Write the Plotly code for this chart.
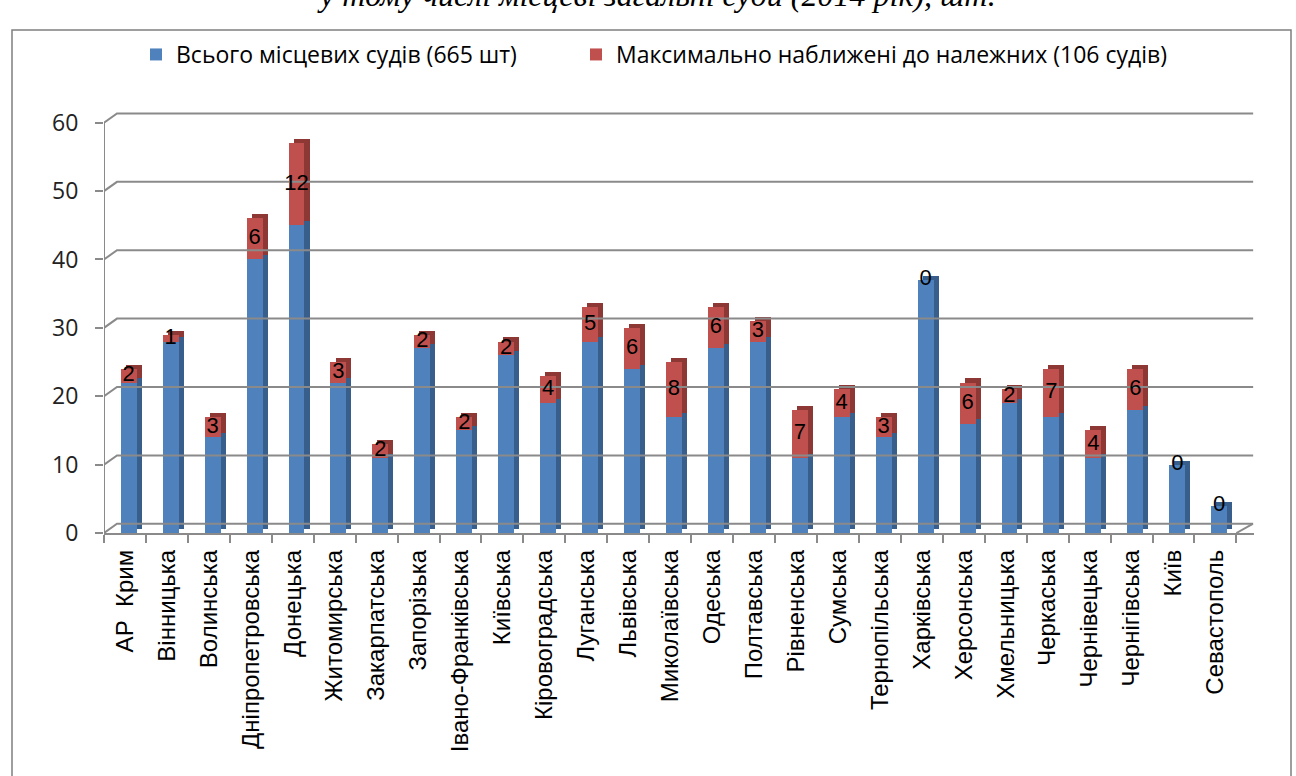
import plotly.graph_objects as go

regions = ["АР  Крим", "Вінницька", "Волинська", "Дніпропетровська", "Донецька",
           "Житомирська", "Закарпатська", "Запорізька", "Івано-Франківська", "Київська",
           "Кіровоградська", "Луганська", "Львівська", "Миколаївська", "Одеська",
           "Полтавська", "Рівненська", "Сумська", "Тернопільська", "Харківська",
           "Херсонська", "Хмельницька", "Черкаська", "Чернівецька", "Чернігівська",
           "Київ", "Севастополь"]
all_courts = [22, 28, 14, 40, 45, 22, 11, 27, 15, 26, 19, 28, 24, 17, 27,
              28, 11, 17, 14, 37, 16, 19, 17, 11, 18, 10, 4]
near_courts = [2, 1, 3, 6, 12, 3, 2, 2, 2, 2, 4, 5, 6, 8, 6,
               3, 7, 4, 3, 0, 6, 2, 7, 4, 6, 0, 0]
y_ticks = [0, 10, 20, 30, 40, 50, 60]
series_names = ["Всього місцевих судів (665 шт)", "Максимально наближені до належних (106 судів)"]
title_text = "у тому числі місцеві загальні суди (2014 рік), шт."

# layout geometry (pixels)
W, H = 1296, 776
L, R, T, B = 104, 42, 109, 243
PW, PH = W - L - R, H - T - B
XR = [-0.5, 26.92]
YR = [0, 62]

def xp(px):
    return (px - L) / PW

def yp(py):
    return (H - B - py) / PH

n = len(regions)
xs = list(range(n))
DX, DY = 0.31, 1.35   # 3D wall depth (data units)
BW, BOFF = 0.38, -0.10  # bar front face
SX, SY = 0.12, 0.6      # bar depth shift

BLUE, BLUE_D = "#4F81BD", "#385E8C"
RED, RED_D = "#C0504D", "#8E3835"
GRID = "#8A8A8A"

fig = go.Figure()

# back grid lines with left-wall diagonal
for v in y_ticks:
    fig.add_trace(go.Scatter(x=[-0.5, -0.5 + DX, XR[1] - 0.02], y=[v, v + DY, v + DY],
                             mode="lines", line=dict(color=GRID, width=2),
                             showlegend=False, hoverinfo="skip"))
# front y axis line and floor right edge
fig.add_trace(go.Scatter(x=[-0.5, -0.5], y=[0, 60], mode="lines",
                         line=dict(color=GRID, width=2), showlegend=False, hoverinfo="skip"))
fig.add_trace(go.Scatter(x=[26.5, 26.5 + DX + 0.08], y=[0, DY], mode="lines",
                         line=dict(color=GRID, width=2), showlegend=False, hoverinfo="skip"))

# depth (side/top) faces
fig.add_trace(go.Bar(x=xs, y=all_courts, base=[SY] * n, width=BW, offset=BOFF + SX,
                     marker=dict(color=BLUE_D, line=dict(width=0)), showlegend=False, hoverinfo="skip"))
fig.add_trace(go.Bar(x=xs, y=near_courts, base=[a + SY for a in all_courts], width=BW, offset=BOFF + SX,
                     marker=dict(color=RED_D, line=dict(width=0)), showlegend=False, hoverinfo="skip"))
# front faces
fig.add_trace(go.Bar(x=xs, y=all_courts, base=[0] * n, width=BW, offset=BOFF, name=series_names[0],
                     marker=dict(color=BLUE, line=dict(width=0)), legend="legend"))
fig.add_trace(go.Bar(x=xs, y=near_courts, base=all_courts, width=BW, offset=BOFF, name=series_names[1],
                     marker=dict(color=RED, line=dict(width=0)), legend="legend2"))

# data labels
fig.add_trace(go.Scatter(x=[i + BOFF + BW / 2 for i in xs],
                         y=[a + b / 2 for a, b in zip(all_courts, near_courts)],
                         text=[str(v) for v in near_courts], mode="text",
                         textfont=dict(family="Liberation Sans", size=22, color="#000000"),
                         textposition="middle center", showlegend=False, hoverinfo="skip"))

# dummy trace for category label axis
fig.add_trace(go.Scatter(x=xs, y=[None] * n, xaxis="x2", yaxis="y", showlegend=False,
                         hoverinfo="skip", mode="markers"))

legend_font = dict(family="Open Sans", size=23, color="#000000")
fig.update_layout(
    width=W, height=H,
    margin=dict(l=L, r=R, t=T, b=B, autoexpand=False),
    paper_bgcolor="white", plot_bgcolor="white",
    barmode="overlay", bargap=0,
    showlegend=True,
    legend=dict(orientation="h", x=xp(136), y=yp(33), xanchor="left", yanchor="top",
                font=legend_font, bgcolor="rgba(0,0,0,0)"),
    legend2=dict(orientation="h", x=xp(576), y=yp(33), xanchor="left", yanchor="top",
                 font=legend_font, bgcolor="rgba(0,0,0,0)"),
    xaxis=dict(range=XR, tickvals=[i - 0.5 for i in range(n + 1)], ticktext=[""] * (n + 1),
               ticks="outside", ticklen=8, tickwidth=2, tickcolor=GRID,
               showline=True, linecolor=GRID, linewidth=2, showgrid=False, zeroline=False,
               fixedrange=True),
    xaxis2=dict(range=XR, overlaying="x", side="bottom", tickvals=xs, ticktext=regions,
                tickangle=-90, ticks="", showline=False, showgrid=False, zeroline=False,
                tickfont=dict(family="Liberation Sans", size=24, color="#000000"),
                ticklabelstandoff=11),
    yaxis=dict(range=YR, tickvals=y_ticks, ticks="outside", ticklen=8, tickwidth=2,
               tickcolor=GRID, showline=False, showgrid=False, zeroline=False,
               tickfont=dict(family="Open Sans", size=23, color="#222222"),
               ticklabelstandoff=12),
    shapes=[dict(type="rect", xref="paper", yref="paper", x0=xp(12), x1=xp(1291),
                 y0=yp(30), y1=yp(800), line=dict(color="#7F7F7F", width=1.5), layer="below")],
    annotations=[dict(text="<i>" + title_text + "</i>", xref="paper", yref="paper",
                      x=xp(656), y=yp(-5), xanchor="center", yanchor="middle", showarrow=False,
                      font=dict(family="Liberation Serif", size=32, color="#000000"))],
)

fig.write_html("out.html", config={"displayModeBar": False},
               post_script="document.body.style.margin='0';document.body.style.overflow='hidden';")
